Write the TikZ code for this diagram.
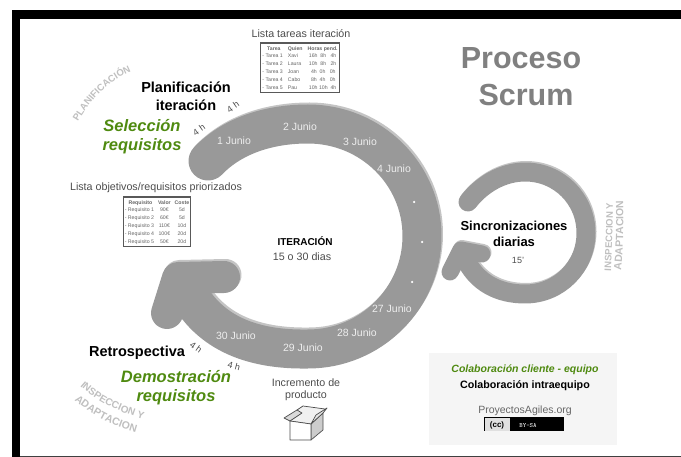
\documentclass[tikz,border=0pt]{standalone}
\usepackage{fontspec}
\setmainfont{Liberation Sans}
\usetikzlibrary{positioning,decorations.text}
\definecolor{band}{HTML}{999999}
\definecolor{bandedge}{HTML}{C4C4C4}
\definecolor{verde}{HTML}{4F8A10}
\newcommand{\px}[1]{\fontsize{#1}{#1}\selectfont}
\newcommand{\bigband}{
  (208,161) .. controls (232,136) and (268,124) .. (308,124)
  .. controls (371,124) and (422,174) .. (422,236)
  .. controls (422,298) and (371,349) .. (308,349)
  .. controls (250,350) and (205,332) .. (183,283)
}
\newcommand{\bighead}{(224,277) -- (178,278) -- (167,313)}
\newcommand{\smallband}{
  (468,202) .. controls (482,184) and (503,172) .. (525,172)
  .. controls (559,172) and (586,199) .. (586,233)
  .. controls (586,267) and (559,294) .. (525,294)
  .. controls (500,294) and (476,284) .. (464,256)
}
\newcommand{\smallhead}{(482,254) -- (461,250) -- (450,272)}
\begin{document}
\begin{tikzpicture}[x=1pt,y=-1pt,node distance=18pt]

  \tikzstyle{loop}=[line cap=round,line join=round]
  \tikzstyle{titulo}=[font=\px{30.5}\bfseries,text=black!50,inner sep=0pt]
  \tikzstyle{fase}=[font=\px{14.5}\bfseries,text=black,inner sep=0pt]
  \tikzstyle{practica}=[font=\px{16.5}\bfseries\itshape,text=verde,inner sep=0pt]
  \tikzstyle{lista}=[font=\px{10.7},text=black!70,inner sep=0pt]
  \tikzstyle{junio}=[font=\px{10.5},text=black!7,inner sep=0pt]
  \tikzstyle{horas}=[font=\px{9},text=black!70,inner sep=0pt]
  \tikzstyle{punto}=[circle,fill=white,inner sep=0pt,minimum size=2.5pt]
  \tikzstyle{tabla}=[draw=black!65,line width=1.2pt,fill=white,inner sep=1.5pt,
                     font=\px{5.2},text=black!60]
  \tikzstyle{curvo}=[decorate,decoration={text along path,text align=center,
                     text color=black!25}]

  \useasboundingbox (0,0) rectangle (681,457);

  % marco
  \fill [black] (12,10) rectangle (681,19);
  \fill [black] (12,10) rectangle (20,457);
  \fill [black!75] (20,456) rectangle (681,457);

  % flechas
  \draw [loop,bandedge,line width=39pt,shift={(1.5,-2)}] \bigband;
  \draw [loop,bandedge,line width=32pt,shift={(1.5,-2)}] \bighead;
  \draw [loop,band,line width=39pt] \bigband;
  \draw [loop,band,line width=32pt] \bighead;
  \draw [loop,bandedge,line width=19pt,shift={(1,-1.5)}] \smallband;
  \draw [loop,bandedge,line width=17pt,shift={(1,-1.5)}] \smallhead;
  \draw [loop,band,line width=19pt] \smallband;
  \draw [loop,band,line width=17pt] \smallhead;

  % titulo
  \node [titulo] (proceso) at (521,58) {Proceso};
  \node [titulo] (scrum) at (526,95) {Scrum};

  % iteracion
  \node [fase] (plan) at (186,87) {Planificación};
  \node [fase] (iter) [below of=plan] {iteración};
  \node [practica] (sel) at (142,126) {Selección};
  \node [practica] (req) [below of=sel,node distance=20pt] {requisitos};
  \node [horas,rotate=35] (h1) at (233,107) {4 h};
  \node [horas,rotate=35] (h2) at (199,130) {4 h};

  \node [junio] (d1) at (234,141) {1 Junio};
  \node [junio] (d2) at (300,127) {2 Junio};
  \node [junio] (d3) at (360,142) {3 Junio};
  \node [junio] (d4) at (394,169) {4 Junio};
  \node [punto] (p1) at (414,202) {};
  \node [punto] (p2) at (422,242) {};
  \node [punto] (p3) at (412,282) {};
  \node [junio] (d27) at (392,309) {27 Junio};
  \node [junio] (d28) at (357,333) {28 Junio};
  \node [junio] (d29) at (303,348) {29 Junio};
  \node [junio] (d30) at (236,336) {30 Junio};

  \node [font=\px{10}\bfseries,inner sep=0pt] (iteracion) at (305,241) {ITERACIÓN};
  \node [lista] (dias) at (302,257) {15 o 30 dias};

  % listas
  \node [lista] (ltareas) at (301,34) {Lista tareas iteración};
  \node [tabla] (tareas) at (300,68) {\renewcommand{\arraystretch}{1.5}\setlength{\tabcolsep}{2.5pt}\begin{tabular}{@{}llc@{}}
    \multicolumn{1}{c}{\textbf{Tarea}} & \textbf{Quien} & \textbf{Horas pend.}\\
    - Tarea 1 & Xavi & 16h \ 8h \ \ 4h\\
    - Tarea 2 & Laura & 10h \ 8h \ \ 2h\\
    - Tarea 3 & Joan & \ 4h \ 0h \ \ 0h\\
    - Tarea 4 & Cabo & \ 8h \ 4h \ \ 0h\\
    - Tarea 5 & Pau & 10h 10h \ 4h
  \end{tabular}};
  \node [lista] (lobjetivos) at (156,188) {Lista objetivos/requisitos priorizados};
  \node [tabla] (objetivos) at (157,222) {\renewcommand{\arraystretch}{1.5}\setlength{\tabcolsep}{2pt}\begin{tabular}{@{}lcc@{}}
    \multicolumn{1}{c}{\textbf{Requisito}} & \textbf{Valor} & \textbf{Coste}\\
    - Requisito 1 & 90€ & 5d\\
    - Requisito 2 & 60€ & 5d\\
    - Requisito 3 & 110€ & 10d\\
    - Requisito 4 & 100€ & 20d\\
    - Requisito 5 & 50€ & 20d
  \end{tabular}};

  % retrospectiva
  \node [fase] (retro) at (137,353) {Retrospectiva};
  \node [practica] (demo) at (176,377) {Demostración};
  \node [practica] (req2) [below of=demo,node distance=20pt] {requisitos};
  \node [horas,rotate=-35] (h3) at (196,347) {4 h};
  \node [horas,rotate=-15] (h4) at (234,366) {4 h};

  % incremento
  \node [lista] (incr) at (306,383) {Incremento de};
  \node [lista] (prod) [below of=incr,node distance=13pt] {producto};
  \begin{scope}[draw=black!70,line width=0.7pt,line join=round]
    \filldraw [fill=black!6] (297,410) -- (303,406) -- (325,409) -- (323,413) -- (311,424) -- (290,421) -- cycle;
    \filldraw [fill=black!20] (311,424) -- (323,413) -- (323,430) -- (311,440) -- cycle;
    \filldraw [fill=white] (290,421) -- (311,424) -- (311,440) -- (290,440) -- cycle;
    \filldraw [fill=black!15] (290,421) -- (284,418) -- (297,410) -- (302,413) -- cycle;
    \filldraw [fill=black!10] (311,424) -- (316,415) -- (327,408) -- (323,413) -- cycle;
  \end{scope}

  % sincronizaciones
  \node [font=\px{13}\bfseries,inner sep=0pt] (sinc) at (514,226) {Sincronizaciones};
  \node [font=\px{13}\bfseries,inner sep=0pt] (diarias) [below of=sinc,node distance=16pt] {diarias};
  \node [font=\px{9},text=black!70,inner sep=0pt] (min) at (518,260) {15'};

  % textos curvos
  \path [curvo,decoration={text={|\px{9.5}\bfseries|PLANIFICACIÓN}}] (76,125) .. controls (90,100) and (108,80) .. (135,70);
  \path [curvo,decoration={text={|\px{9.5}\bfseries|INSPECCION Y}}] (611,272) .. controls (612,250) and (613,225) .. (613,202);
  \path [curvo,decoration={text={|\px{10.5}\bfseries|ADAPTACION}}] (621,273) .. controls (623,250) and (624,225) .. (623,198);
  \path [curvo,decoration={text={|\px{10}\bfseries|INSPECCION Y}}] (80,386) .. controls (98,402) and (118,412) .. (143,419);
  \path [curvo,decoration={text={|\px{10.5}\bfseries|ADAPTACION}}] (72,398) .. controls (90,414) and (112,426) .. (139,433);

  % panel
  \node [fill=black!4,minimum width=188pt,minimum height=92pt,inner sep=0pt] (panel) at (523,399) {};
  \node [font=\px{10.5}\bfseries\itshape,text=verde,inner sep=0pt] (cliente) at (525,370) {Colaboración cliente - equipo};
  \node [font=\px{10.7}\bfseries,inner sep=0pt] (intra) at (525,386) {Colaboración intraequipo};
  \node [font=\px{10.5},text=black!60,inner sep=0pt] (web) at (525,411) {ProyectosAgiles.org};
  \fill [black] (484,417) rectangle (564,431);
  \fill [black!12] (485,418) rectangle (510,431);
  \node [font=\px{8}\bfseries,inner sep=0pt] (cc) at (497,425) {(cc)};
  \node [font=\px{6.5}\ttfamily,text=white,inner sep=0pt] (bysa) at (528,425) {BY-SA};

\end{tikzpicture}
\end{document}
